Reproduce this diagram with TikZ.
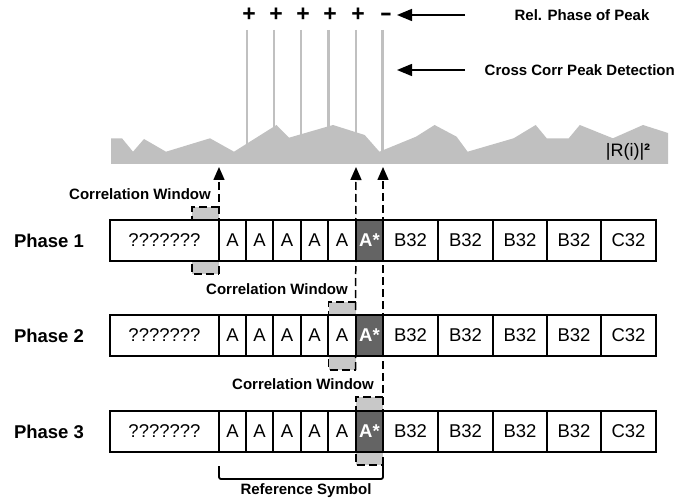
\documentclass[tikz,border=0pt]{standalone}
\usepackage{fontspec}
\setmainfont{Liberation Sans}
\usetikzlibrary{arrows.meta}
\definecolor{areagray}{RGB}{192,192,192}
\definecolor{wingray}{RGB}{200,200,200}
\definecolor{stargray}{RGB}{100,100,100}
\begin{document}
\begin{tikzpicture}[x=1pt,y=-1pt,
  cell/.style={draw=black, line width=1.2pt, fill=white, inner sep=0pt, outer sep=0pt, minimum height=41pt, font=\fontsize{18.5}{20}\selectfont},
  starcell/.style={cell, fill=stargray, text=white, font=\fontsize{18.5}{20}\selectfont\bfseries},
  win/.style={fill=wingray, inner sep=0pt, outer sep=0pt, minimum width=27pt, minimum height=68pt},
  wdash/.style={draw=black, line width=1.5pt, dash pattern=on 8pt off 4pt},
  uparrow/.style={wdash, -{Triangle[length=13pt,width=11pt]}},
  lbl/.style={font=\fontsize{15}{17}\selectfont\bfseries, inner sep=0pt},
  phase/.style={font=\fontsize{18.5}{20}\selectfont\bfseries, inner sep=0pt},
  peak/.style={draw=areagray, line width=2.5pt},
  sign/.style={font=\fontsize{23}{25}\selectfont\bfseries, inner sep=0pt},
  leftarrow/.style={draw=black, line width=1.5pt, -{Triangle[length=15pt,width=12pt]}},
  brk/.style={draw=black, line width=1.8pt, rounded corners=2pt},
]
\useasboundingbox (0,0) rectangle (676,502);

% correlation profile
\fill[areagray] (111,164) -- (111,138.3) -- (122,138.3) -- (133,151.7) -- (144,139) -- (166,151.7)
  -- (210,138.3) -- (234,151.7) -- (276.5,125) -- (289,137.7) -- (333,125) -- (364.7,135)
  -- (379.4,151.7) -- (416,136.7) -- (434.6,125) -- (456.6,136.7) -- (467.6,151.7)
  -- (513.6,138.3) -- (535.7,125) -- (546.7,138.3) -- (568.7,138.3) -- (579.8,125)
  -- (612.9,138.3) -- (643,125) -- (668,133) -- (668,164) -- cycle;
\foreach \x in {247,274,301,328.5,356,382.5} \draw[peak] (\x,30) -- (\x,156);
\node[font=\fontsize{18}{20}\selectfont, inner sep=0pt] (rr) at (628,152) {|R(i)|\textbf{²}};

% signs
\foreach \x/\n in {249/1,276/2,303/3,330/4,358/5} \node[sign] (p\n) at (\x,15) {+};
\node[sign] (m6) at (386,17) {\scalebox{1.6}[1]{-}};

% top labels and arrows
\node[lbl] (rel) at (582,15) {Rel. Phase of Peak};
\node[lbl, anchor=east] (ccp) at (675,70) {Cross Corr Peak Detection};
\coordinate (a1s) at (465,15);
\coordinate (a1e) at (397,15);
\coordinate (a2s) at (465,70);
\coordinate (a2e) at (397,70);
\draw[leftarrow] (a1s) -- (a1e);
\draw[leftarrow] (a2s) -- (a2e);

% correlation windows
\node[win, minimum height=67pt] (w1) at (205.5,240.5) {};
\node[win] (w2) at (342,336) {};
\node[win] (w3) at (369.5,431) {};
\coordinate (t1) at (219,167);
\coordinate (t2) at (356,167);
\coordinate (t3) at (383,167);
\foreach \w in {w1,w2,w3}
  \draw[wdash] (\w.north east) -- (\w.north west) -- (\w.south west) -- (\w.south east);
\draw[uparrow] (w1.south east) -- (t1);
\draw[uparrow] (w2.south east) -- (t2);
\draw[uparrow] (w3.south east) -- (t3);

% rows
\foreach \r/\yc in {1/240.5, 2/335.5, 3/431.5} {
  \foreach \a/\b/\t/\n in {110/219/???????/q, 219/246/A/a1, 246/273/A/a2, 273/301/A/a3, 301/328/A/a4, 328/356/A/a5, 383/438/B32/b1, 438/493/B32/b2, 493/547/B32/b3, 547/601/B32/b4, 601/656/C32/c} {
    \pgfmathsetmacro\cellw{\b-\a}
    \pgfmathsetmacro\cellx{(\a+\b)/2}
    \node[cell, minimum width=\cellw pt] (r\r\n) at (\cellx,\yc) {\t};
  }
  \node[starcell, minimum width=27pt] (r\r s) at (369.5,\yc) {A*};
  \node[phase] (ph\r) at (49,\yc) {Phase \r};
}

% labels
\node[lbl] (cw1) at (140,194) {Correlation Window};
\node[lbl] (cw2) at (277,289) {Correlation Window};
\node[lbl] (cw3) at (303,384) {Correlation Window};

% reference symbol bracket
\draw[brk] (r3a1.south west) ++(0,14) -- ++(0,13) -| (w3.south east);
\node[lbl] (ref) at (306,491) {Reference Symbol};
\end{tikzpicture}
\end{document}
